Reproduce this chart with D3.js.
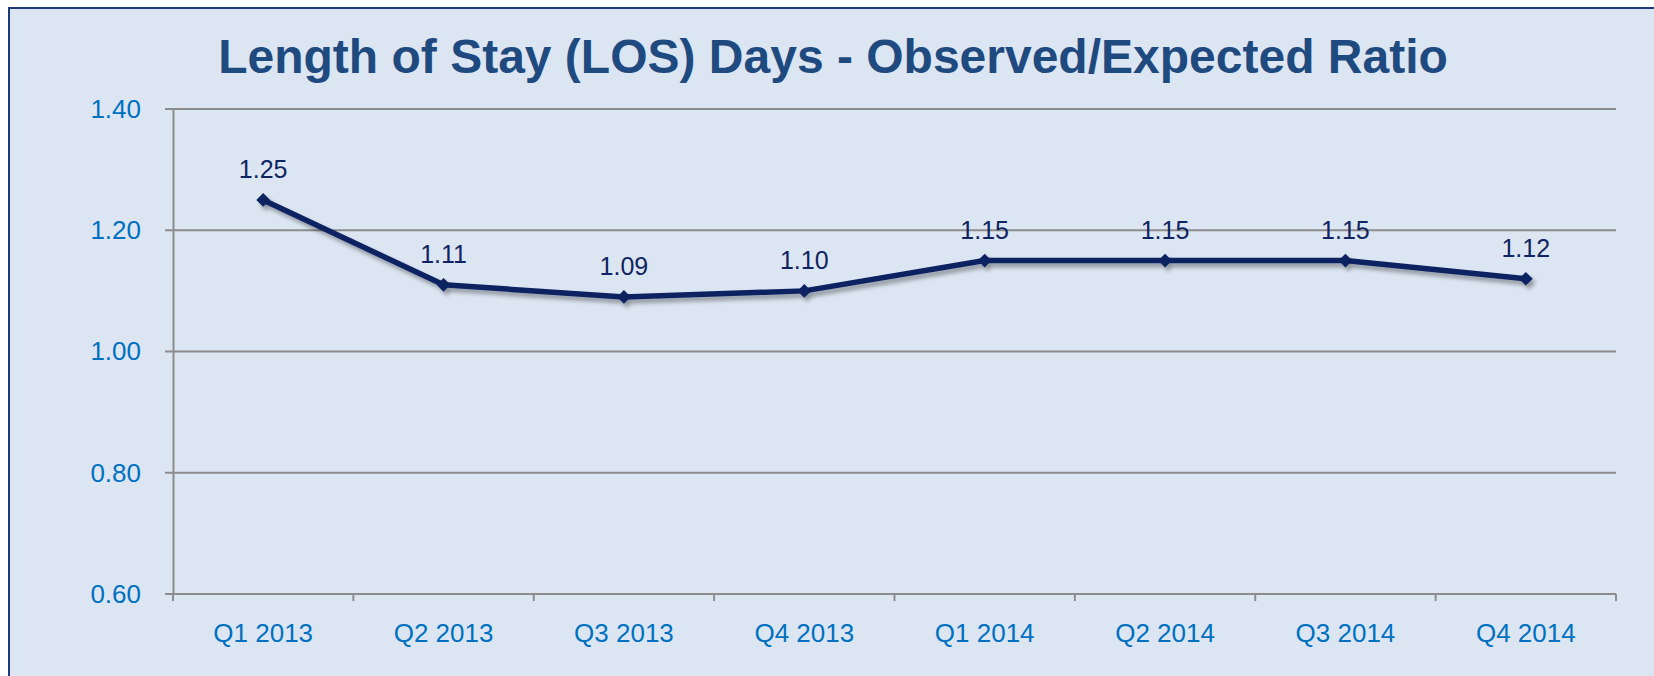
<!DOCTYPE html>
<html>
<head>
<meta charset="utf-8">
<script src="https://cdn.jsdelivr.net/npm/d3@7"></script>
<style>
  html, body { margin: 0; padding: 0; background: #fff; }
  svg { display: block; font-family: "Liberation Sans", Arial, sans-serif; }
</style>
</head>
<body>
<svg id="chart" width="1654" height="676"></svg>
<script>
// chart data
const quarters = ['Q1 2013', 'Q2 2013', 'Q3 2013', 'Q4 2013', 'Q1 2014', 'Q2 2014', 'Q3 2014', 'Q4 2014'];
const losRatio = [1.25, 1.11, 1.09, 1.10, 1.15, 1.15, 1.15, 1.12];
const yTicks = [0.60, 0.80, 1.00, 1.20, 1.40];
const title = 'Length of Stay (LOS) Days - Observed/Expected Ratio';

const W = 1654, H = 676;
const margin = {top: 109, right: 38, bottom: 82, left: 173};
const svg = d3.select('#chart');

// drop shadow for the line
const defs = svg.append('defs');
const f = defs.append('filter').attr('id', 'shadow')
  .attr('x', '-5%').attr('y', '-20%').attr('width', '110%').attr('height', '160%');
f.append('feDropShadow').attr('dx', 3).attr('dy', 4).attr('stdDeviation', 2.2)
  .attr('flood-color', '#000').attr('flood-opacity', 0.35);

// panel + frame
svg.append('rect').attr('x', 9).attr('y', 8).attr('width', W).attr('height', H)
  .attr('fill', '#dce6f2').attr('stroke', '#1f3a78').attr('stroke-width', 2);

svg.append('text')
  .attr('x', 833).attr('y', 73)
  .attr('text-anchor', 'middle')
  .attr('font-size', 48).attr('font-weight', 'bold')
  .attr('fill', '#1f4a7f')
  .text(title);

const x = d3.scaleBand().domain(quarters)
  .range([margin.left, W - margin.right]);
const y = d3.scaleLinear().domain([0.6, 1.4])
  .range([H - margin.bottom, margin.top]);

// gridlines
svg.append('g').selectAll('line').data(yTicks).join('line')
  .attr('x1', margin.left - 8).attr('x2', W - margin.right)
  .attr('y1', d => y(d)).attr('y2', d => y(d))
  .attr('stroke', '#8c8c8c').attr('stroke-width', 2);

// y axis
const yAxis = svg.append('g')
  .attr('transform', `translate(${margin.left},0)`)
  .call(d3.axisLeft(y).tickValues(yTicks).tickFormat(d3.format('.2f')).tickSize(0).tickPadding(32));
yAxis.select('.domain').attr('stroke', '#8c8c8c').attr('stroke-width', 2);
yAxis.selectAll('text').attr('font-size', 26).attr('fill', '#0070c0')
  .attr('font-family', '"Liberation Sans", Arial, sans-serif');

// x axis with ticks on category boundaries
const xAxis = svg.append('g')
  .attr('transform', `translate(0,${H - margin.bottom})`)
  .call(d3.axisBottom(x).tickSize(0).tickPadding(30));
xAxis.select('.domain').remove();
xAxis.selectAll('text').attr('font-size', 26).attr('fill', '#0070c0')
  .attr('font-family', '"Liberation Sans", Arial, sans-serif');
const bounds = quarters.map(q => x(q)).concat([x.range()[1]]);
xAxis.selectAll('line.bound').data(bounds).join('line')
  .attr('class', 'bound')
  .attr('x1', d => d).attr('x2', d => d)
  .attr('y1', 0).attr('y2', 7)
  .attr('stroke', '#8c8c8c').attr('stroke-width', 2);

// series
const cx = (d, i) => x(quarters[i]) + x.bandwidth() / 2;
const lineGen = d3.line().x(cx).y(d => y(d));
const series = svg.append('g').attr('filter', 'url(#shadow)');
series.append('path').datum(losRatio)
  .attr('d', lineGen)
  .attr('fill', 'none').attr('stroke', '#0b2060').attr('stroke-width', 5.5)
  .attr('stroke-linejoin', 'round');
series.selectAll('path.pt').data(losRatio).join('path')
  .attr('class', 'pt')
  .attr('d', d3.symbol(d3.symbolDiamond2, 120))
  .attr('transform', (d, i) => `translate(${cx(d, i)},${y(d)})`)
  .attr('fill', '#0b2060');

// value labels
svg.append('g').selectAll('text').data(losRatio).join('text')
  .attr('x', cx).attr('y', d => y(d) - 22)
  .attr('text-anchor', 'middle')
  .attr('font-size', 25).attr('fill', '#0f2460')
  .text(d => d.toFixed(2));
</script>
</body>
</html>
